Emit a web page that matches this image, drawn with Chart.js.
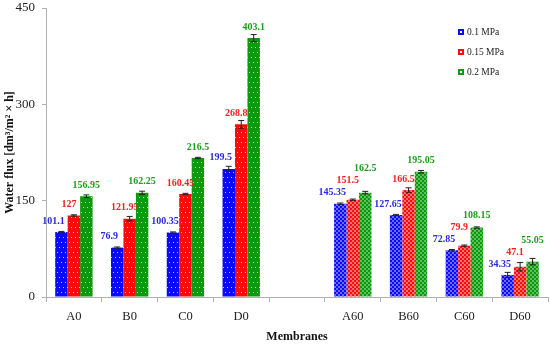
<!DOCTYPE html>
<html>
<head>
<meta charset="utf-8">
<script src="https://cdn.jsdelivr.net/npm/chart.js@4.4.0/dist/chart.umd.min.js"></script>
<style>
  html, body { margin: 0; padding: 0; background: #fff; }
  #wrap { width: 550px; height: 344px; }
</style>
</head>
<body>
<div id="wrap"><canvas id="fluxChart"></canvas></div>
<script>
// categories (empty slot separates the two membrane series)
const membranes = ['A0', 'B0', 'C0', 'D0', '', 'A60', 'B60', 'C60', 'D60'];
const pressures = ['0.1 MPa', '0.15 MPa', '0.2 MPa'];

// water flux values
const flux01 = [101.1, 76.9, 100.35, 199.5, null, 145.35, 127.65, 72.85, 34.35];
const flux015 = [127, 121.95, 160.45, 268.8, null, 151.5, 166.5, 79.9, 47.1];
const flux02 = [156.95, 162.25, 216.5, 403.1, null, 162.5, 195.05, 108.15, 55.05];

// error bars (estimated +/-)
const err01 = [1, 1, 1, 4, null, 1, 1, 1, 4];
const err015 = [1, 3.5, 1, 6, null, 1, 3.5, 1, 6.5];
const err02 = [2, 2.5, 1, 5.5, null, 2, 2, 1, 5];

const yTicks = [0, 150, 300, 450];

const barColors = ['#0a0aff', '#ff0a0a', '#0d990d'];
const lightColors = ['#6a6aff', '#ff7070', '#5cc05c'];
const labelColors = ['#2a2ae0', '#f52020', '#1e9e1e'];
const labelShift = [-8, -5, 0];

// patterns: sparse white dots for the first group, fine checker for the second
function dotPattern(color) {
    const c = document.createElement('canvas');
    c.width = 4; c.height = 10;
    const g = c.getContext('2d');
    g.fillStyle = color;
    g.fillRect(0, 0, 4, 10);
    g.fillStyle = 'rgba(255,255,255,0.75)';
    g.fillRect(1, 2, 1, 1);
    g.fillRect(3, 7, 1, 1);
    return g.createPattern(c, 'repeat');
}

function checkPattern(color, light) {
    const c = document.createElement('canvas');
    c.width = 4; c.height = 4;
    const g = c.getContext('2d');
    g.fillStyle = color;
    g.fillRect(0, 0, 4, 4);
    g.fillStyle = light;
    g.fillRect(0, 0, 2, 2);
    g.fillRect(2, 2, 2, 2);
    return g.createPattern(c, 'repeat');
}

const dotted = barColors.map(dotPattern);
const checked = barColors.map((c, i) => checkPattern(c, lightColors[i]));

const seriesData = [flux01, flux015, flux02];
const seriesErr = [err01, err015, err02];

const serif = '"Liberation Serif", "DejaVu Serif", serif';

// error bars + value labels (labels lifted when they would collide with the previous one)
const annotatePlugin = {
    id: 'annotate',
    afterDatasetsDraw(chart) {
        const ctx = chart.ctx;
        const y = chart.scales.y;
        const metas = chart.data.datasets.map((ds, di) => chart.getDatasetMeta(di));
        ctx.save();
        ctx.font = 'bold 10px ' + serif;
        ctx.textAlign = 'center';
        ctx.textBaseline = 'middle';
        chart.data.labels.forEach((lab, i) => {
            let prev = null;
            metas.forEach((meta, di) => {
                const v = seriesData[di][i];
                if (v == null) return;
                const bar = meta.data[i];
                const e = seriesErr[di][i];
                const top = y.getPixelForValue(v + e);
                const bot = y.getPixelForValue(v - e);
                ctx.strokeStyle = '#222';
                ctx.lineWidth = 1;
                ctx.beginPath();
                ctx.moveTo(bar.x, top); ctx.lineTo(bar.x, bot);
                ctx.moveTo(bar.x - 3, top); ctx.lineTo(bar.x + 3, top);
                ctx.moveTo(bar.x - 3, bot); ctx.lineTo(bar.x + 3, bot);
                ctx.stroke();

                const txt = String(v);
                const w = ctx.measureText(txt).width;
                const lx = bar.x + labelShift[di];
                let ly = Math.min(bar.y - 11, top - 6);
                if (prev && lx - w / 2 < prev.x + prev.w / 2 && ly > prev.y - 12) {
                    ly = prev.y - 12;
                }
                ctx.fillStyle = labelColors[di];
                ctx.fillText(txt, lx, ly);
                prev = { x: lx, y: ly, w: w };
            });
        });
        ctx.restore();
    }
};

// legend drawn inside the plot, top right
const legendPlugin = {
    id: 'boxLegend',
    afterDraw(chart) {
        const ctx = chart.ctx;
        ctx.save();
        pressures.forEach((p, i) => {
            const cy = 32 + i * 20;
            ctx.fillStyle = barColors[i];
            ctx.fillRect(458, cy - 3, 6, 6);
            ctx.fillStyle = '#fff';
            ctx.fillRect(460, cy - 1, 2, 2);
            ctx.fillStyle = '#222';
            ctx.font = '9.5px ' + serif;
            ctx.textAlign = 'left';
            ctx.textBaseline = 'middle';
            ctx.fillText(p, 467, cy);
        });
        ctx.restore();
    }
};

new Chart(document.getElementById('fluxChart'), {
    type: 'bar',
    data: {
        labels: membranes,
        datasets: pressures.map((p, di) => ({
            label: p,
            data: seriesData[di],
            backgroundColor: ctx => (ctx.dataIndex < 4 ? dotted[di] : checked[di]),
            borderWidth: 0,
            categoryPercentage: 0.67,
            barPercentage: 1.0
        }))
    },
    options: {
        responsive: true,
        maintainAspectRatio: false,
        animation: false,
        layout: { padding: { top: 8, right: 2, left: 0, bottom: 0 } },
        plugins: {
            legend: { display: false },
            tooltip: { enabled: false }
        },
        scales: {
            x: {
                offset: true,
                grid: {
                    offset: true,
                    drawOnChartArea: false,
                    drawTicks: true,
                    tickLength: 5,
                    color: '#b0b0b0'
                },
                border: { color: '#b0b0b0' },
                ticks: {
                    color: '#222',
                    font: { family: serif, size: 12.5 },
                    padding: 7,
                    maxRotation: 0
                },
                title: {
                    display: true,
                    text: 'Membranes',
                    color: '#111',
                    font: { family: serif, size: 12, weight: 'bold' },
                    padding: { top: 2, bottom: 0 }
                },
                afterFit: s => { s.height = 47; }
            },
            y: {
                min: 0,
                max: 450,
                afterBuildTicks: s => { s.ticks = yTicks.map(v => ({ value: v })); },
                grid: {
                    drawOnChartArea: false,
                    drawTicks: true,
                    tickLength: 4,
                    color: '#b0b0b0'
                },
                border: { color: '#b0b0b0' },
                ticks: {
                    color: '#222',
                    font: { family: serif, size: 13 },
                    padding: 7
                },
                title: {
                    display: true,
                    text: 'Water flux [dm³/m² × h]',
                    color: '#111',
                    font: { family: serif, size: 12, weight: 'bold' },
                    padding: { top: 3, bottom: 2 }
                },
                afterFit: s => { s.width = 46; s.paddingTop = 0; s.paddingBottom = 0; }
            }
        }
    },
    plugins: [annotatePlugin, legendPlugin]
});
</script>
</body>
</html>
